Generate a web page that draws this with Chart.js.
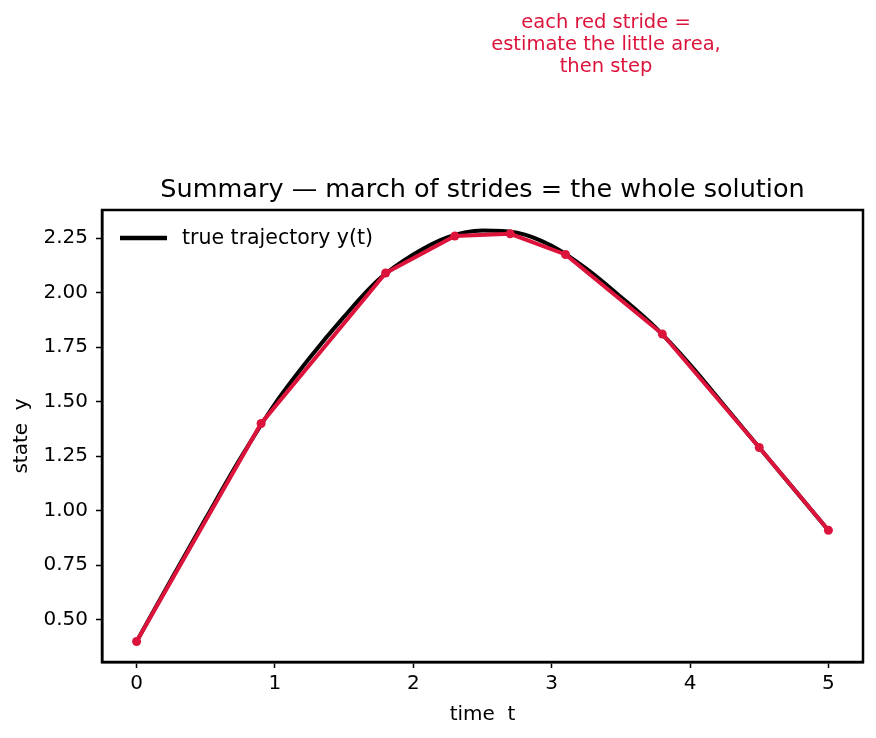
<!DOCTYPE html>
<html>
<head>
<meta charset="utf-8">
<script src="https://cdn.jsdelivr.net/npm/chart.js@4.4.1/dist/chart.umd.min.js"></script>
<style>
  html, body { margin: 0; padding: 0; background: #ffffff; }
  #wrap { width: 876px; height: 738px; position: relative; }
</style>
</head>
<body>
<div id="wrap"><canvas id="c" width="876" height="738"></canvas></div>
<script>
// ---- data ----
const trueT = [0, 0.25, 0.5, 0.75, 1.0, 1.25, 1.5, 1.75, 2.0, 2.25, 2.5, 2.75, 3.0, 3.25, 3.5, 3.75, 4.0, 4.25, 4.5, 4.75, 5.0];
const trueY = [0.40, 0.685, 0.965, 1.24, 1.49, 1.70, 1.89, 2.06, 2.175, 2.255, 2.285, 2.275, 2.215, 2.11, 1.98, 1.84, 1.67, 1.48, 1.29, 1.10, 0.91];
const strideT = [0, 0.9, 1.8, 2.3, 2.7, 3.1, 3.8, 4.5, 5.0];
const strideY = [0.40, 1.40, 2.09, 2.26, 2.27, 2.175, 1.81, 1.29, 0.91];
const xTicks = [0, 1, 2, 3, 4, 5];
const yTicks = [0.50, 0.75, 1.00, 1.25, 1.50, 1.75, 2.00, 2.25];

const titleText = 'Summary — march of strides = the whole solution';
const noteLines = ['each red stride =', 'estimate the little area,', 'then step'];
const legendLabel = 'true trajectory y(t)';
const xLabel = 'time  t';
const yLabel = 'state  y';

const FONT = "'DejaVu Sans', sans-serif";
const RED = '#DC143C';

const toPts = (xs, ys) => xs.map((x, i) => ({ x: x, y: ys[i] }));

const extras = {
  id: 'extras',
  afterDraw(chart) {
    const { ctx, chartArea: a } = chart;
    ctx.save();
    // frame
    ctx.strokeStyle = '#000';
    ctx.lineWidth = 2.5;
    ctx.strokeRect(a.left, a.top, a.right - a.left, a.bottom - a.top);
    // title
    ctx.fillStyle = '#000';
    ctx.font = '25.5px ' + FONT;
    ctx.textAlign = 'center';
    ctx.textBaseline = 'middle';
    ctx.fillText(titleText, (a.left + a.right) / 2, 190);
    // annotation
    ctx.fillStyle = RED;
    ctx.font = '19.5px ' + FONT;
    noteLines.forEach((s, i) => ctx.fillText(s, 606, 23 + i * 22));
    // legend
    ctx.strokeStyle = '#000';
    ctx.lineWidth = 4.5;
    ctx.beginPath();
    ctx.moveTo(a.left + 18, 238);
    ctx.lineTo(a.left + 65, 238);
    ctx.stroke();
    ctx.fillStyle = '#000';
    ctx.font = '20.5px ' + FONT;
    ctx.textAlign = 'left';
    ctx.fillText(legendLabel, a.left + 80, 239);
    ctx.restore();
  }
};

new Chart(document.getElementById('c'), {
  type: 'scatter',
  data: {
    datasets: [
      {
        label: 'strides',
        data: toPts(strideT, strideY),
        showLine: true,
        borderColor: RED,
        backgroundColor: RED,
        borderWidth: 4,
        pointRadius: 4.5,
        pointBorderWidth: 0,
        tension: 0,
        order: 0
      },
      {
        label: legendLabel,
        data: toPts(trueT, trueY),
        showLine: true,
        borderColor: '#000',
        backgroundColor: '#000',
        borderWidth: 4,
        pointRadius: 0,
        cubicInterpolationMode: 'monotone',
        order: 1
      }
    ]
  },
  options: {
    responsive: false,
    animation: false,
    devicePixelRatio: 1,
    layout: { padding: { top: 210, right: 13, bottom: 0, left: 0 } },
    plugins: { legend: { display: false }, tooltip: { enabled: false }, title: { display: false } },
    scales: {
      x: {
        type: 'linear',
        min: -0.25, max: 5.25,
        afterBuildTicks: (s) => { s.ticks = xTicks.map(v => ({ value: v })); },
        afterFit: (s) => { s.height = 76; },
        border: { display: true, color: '#000', width: 2.5 },
        grid: { display: true, drawOnChartArea: false, drawTicks: true, tickLength: 6, tickColor: '#000', tickWidth: 1.5 },
        ticks: { color: '#000', font: { family: FONT, size: 20 }, padding: 4, maxRotation: 0, callback: (v) => String(v) },
        title: { display: true, text: xLabel, color: '#000', font: { family: FONT, size: 20 }, padding: { top: 0, bottom: 11 } }
      },
      y: {
        type: 'linear',
        min: 0.306, max: 2.379,
        afterBuildTicks: (s) => { s.ticks = yTicks.map(v => ({ value: v })); },
        afterFit: (s) => { s.width = 102; },
        border: { display: true, color: '#000', width: 2.5 },
        grid: { display: true, drawOnChartArea: false, drawTicks: true, tickLength: 6, tickColor: '#000', tickWidth: 1.5 },
        ticks: { color: '#000', font: { family: FONT, size: 20 }, padding: 8, callback: (v) => Number(v).toFixed(2) },
        title: { display: true, text: yLabel, color: '#000', font: { family: FONT, size: 20 }, padding: { top: 10, bottom: 0 } }
      }
    }
  },
  plugins: [extras]
});
</script>
</body>
</html>
